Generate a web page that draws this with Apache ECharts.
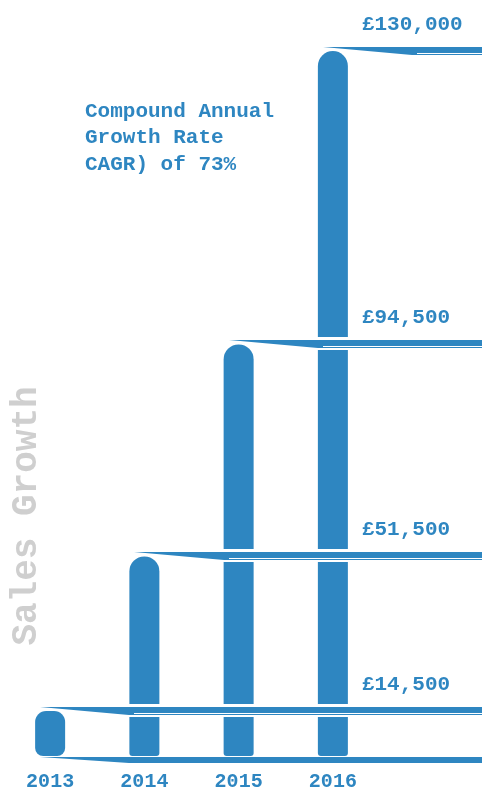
<!DOCTYPE html>
<html><head><meta charset="utf-8">
<script src="https://cdn.jsdelivr.net/npm/echarts@6/dist/echarts.min.js"></script>
<style>html,body{margin:0;padding:0;background:#fff}#chart{width:482px;height:792px}</style>
</head><body><div id="chart"></div>
<script>
// ---- data ----
const years = ['2013', '2014', '2015', '2016'];
const salesValues = [14500, 51500, 94500, 130000];          // amounts written on the chart
const barLevels = [8300, 36800, 75900, 130000];             // bar heights as drawn (picture is not to scale)
const valueLabels = ['£14,500', '£51,500', '£94,500', '£130,000'];
const cagrLines = ['Compound Annual', 'Growth Rate', 'CAGR) of 73%'];
const sideTitle = 'Sales Growth';

const BLUE = '#2E86C1';
const FONT = '"Liberation Mono", "DejaVu Sans Mono", monospace';

const chart = echarts.init(document.getElementById('chart'));

// guide ribbons: [start bar index, level, isBase]
const guideData = [[0, 0, 1]].concat(barLevels.map((v, i) => [i, v, 0]));

function renderGuide(params, api) {
  const i = api.value(0), lvl = api.value(1), isBase = api.value(2);
  const p = api.coord([i, lvl]);
  const step = api.coord([1, 0])[0] - api.coord([0, 0])[0];
  const half = 15;
  const barLeft = Math.round(p[0] - half);
  const nextLeft = Math.round(p[0] - half + step);
  const tipX = barLeft + 5;
  const yT = Math.round(isBase ? p[1] + 1 : p[1] - 4);
  const R = api.getWidth() + 2;
  const T = isBase ? 6 : 8;
  const children = [];
  const up = isBase ? 0 : 3;
  children.push({
    type: 'polygon',
    shape: { points: [[tipX - 2, yT - up], [R, yT - up], [R, yT + T + 2], [nextLeft, yT + T + 2], [tipX - 2, yT + 1]] },
    style: { fill: '#ffffff' }
  });
  children.push({
    type: 'polygon',
    shape: { points: [[tipX, yT], [R, yT], [R, yT + T], [nextLeft, yT + T]] },
    style: { fill: BLUE }
  });
  if (!isBase) {
    children.push({
      type: 'rect',
      shape: { x: nextLeft + 5, y: yT + 6, width: R - nextLeft - 5, height: 1 },
      style: { fill: '#ffffff' }
    });
    const lx = api.coord([3, 0])[0] + 29;
    children.push({
      type: 'text',
      style: {
        x: lx, y: yT - 22, text: valueLabels[i],
        fill: BLUE, font: 'bold 21px ' + FONT,
        textAlign: 'left', textVerticalAlign: 'middle'
      }
    });
  }
  return { type: 'group', children: children };
}

const option = {
  backgroundColor: '#ffffff',
  animation: false,
  grid: { left: 3, right: 102, top: 51, bottom: 35 },
  xAxis: {
    type: 'category', data: years,
    axisLine: { show: false }, axisTick: { show: false },
    axisLabel: { color: BLUE, fontFamily: FONT, fontWeight: 'bold', fontSize: 20, margin: 16 }
  },
  yAxis: { type: 'value', min: 0, max: 130000, show: false },
  series: [
    {
      type: 'bar', barWidth: 30, z: 2,
      data: barLevels.map((v, i) => ({
        value: v,
        itemStyle: { color: BLUE, borderRadius: i === 0 ? [11, 11, 8, 8] : [15, 15, 3, 3] }
      }))
    },
    {
      type: 'custom', z: 3,
      renderItem: renderGuide,
      encode: { x: 0, y: 1 },
      data: guideData
    }
  ],
  graphic: [
    {
      type: 'text', left: 85, top: 98,
      style: { text: cagrLines.join('\n'), fill: BLUE, font: 'bold 21px ' + FONT, lineHeight: 26.5 }
    },
    {
      type: 'text', x: 27, y: 516, rotation: Math.PI / 2,
      style: { text: sideTitle, fill: '#cfcfcf', font: 'bold 36px ' + FONT, textAlign: 'center', textVerticalAlign: 'middle' }
    }
  ]
};
chart.setOption(option);
</script>
</body></html>
